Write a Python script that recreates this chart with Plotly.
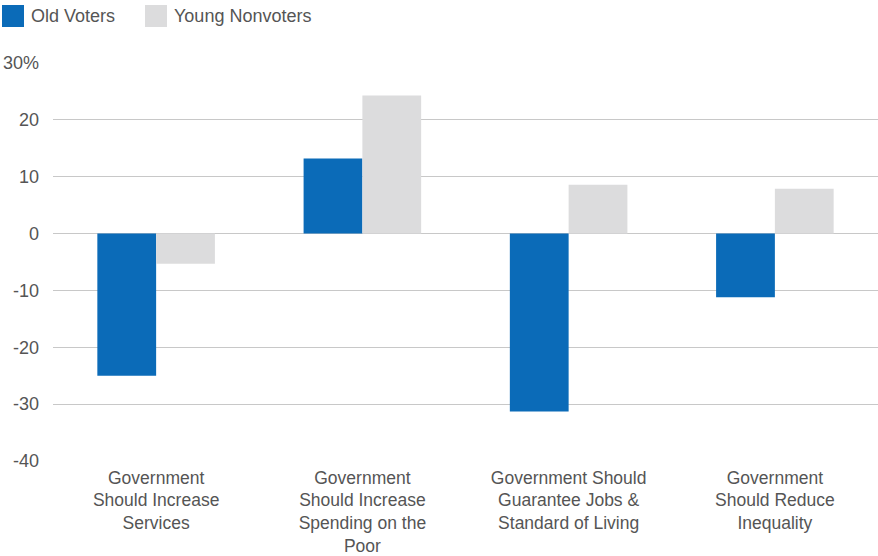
import plotly.graph_objects as go

categories = [
    "Government<br>Should Increase<br>Services",
    "Government<br>Should Increase<br>Spending on the<br>Poor",
    "Government Should<br>Guarantee Jobs &<br>Standard of Living",
    "Government<br>Should Reduce<br>Inequality",
]
old_voters = [-25.0, 13.2, -31.3, -11.2]
young_nonvoters = [-5.3, 24.3, 8.6, 7.9]
series_names = ["Old Voters", "Young Nonvoters"]
series_colors = ["#0b6bb8", "#dcdcdd"]
tick_vals = [30, 20, 10, 0, -10, -20, -30, -40]
tick_text = ["30%", "20", "10", "0", "-10", "-20", "-30", "-40"]

FONT = "Liberation Sans, Arial, Helvetica, sans-serif"
GRAY = "#555555"
W, H = 878, 556
ML, MR, MT, MB = 53, 0, 63, 95
PW, PH = W - ML - MR, H - MT - MB

def px_x(x):
    return (x - ML) / PW

def px_y(y):
    return (H - MB - y) / PH

fig = go.Figure()
for name, vals, col in zip(series_names, [old_voters, young_nonvoters], series_colors):
    fig.add_trace(go.Bar(x=categories, y=vals, name=name, showlegend=False,
                         marker=dict(color=col, line=dict(width=0))))

# legend drawn as swatches + text
legend_x = [2, 145]
for lx, name, col in zip(legend_x, series_names, series_colors):
    fig.add_shape(type="rect", xref="paper", yref="paper",
                  x0=px_x(lx), x1=px_x(lx + 22), y0=px_y(27), y1=px_y(5),
                  fillcolor=col, line=dict(width=0))
    fig.add_annotation(text=name, xref="paper", yref="paper",
                       x=px_x(lx + 27), y=px_y(16), xanchor="left", yanchor="middle",
                       showarrow=False, font=dict(size=18, color=GRAY, family=FONT))

fig.update_layout(
    width=W, height=H,
    margin=dict(l=ML, r=MR, t=MT, b=MB),
    paper_bgcolor="white", plot_bgcolor="white",
    barmode="group", bargap=0.43, bargroupgap=0,
    font=dict(family=FONT, size=18, color=GRAY),
    showlegend=False,
    xaxis=dict(showgrid=False, showline=False, ticks="", automargin=False,
               tickfont=dict(size=17.5, color=GRAY), ticklabelstandoff=4),
    yaxis=dict(range=[-40, 30], tickvals=tick_vals, ticktext=tick_text, automargin=False,
               showgrid=True, gridcolor="#c8c8c8", gridwidth=1,
               zeroline=True, zerolinecolor="#c8c8c8", zerolinewidth=1,
               showline=False, ticks="", ticklabelstandoff=13,
               tickfont=dict(size=18, color=GRAY)),
)

fig.write_html("out.html", config={"displayModeBar": False},
               post_script="document.body.style.margin='0';")
